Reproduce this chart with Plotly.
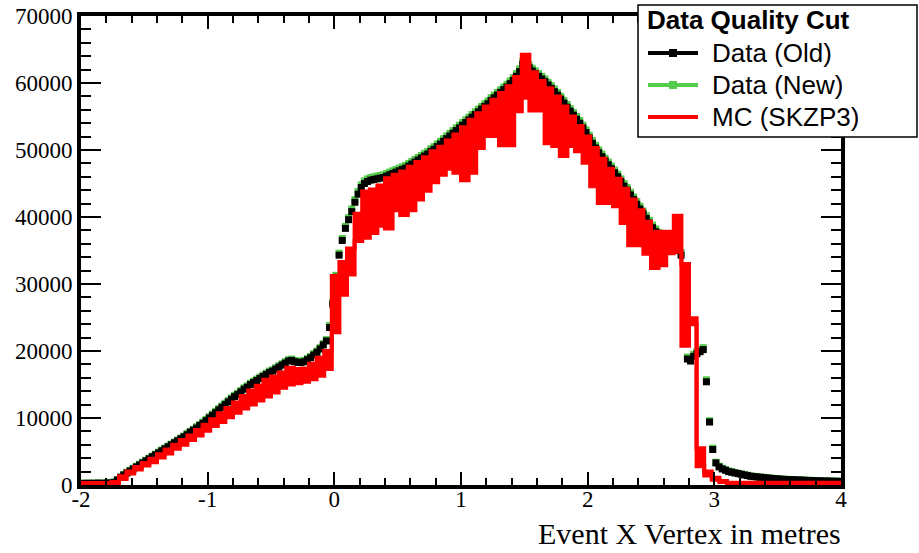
import numpy as np
import plotly.graph_objects as go

# ---------------- data ----------------
# Data histograms: 240 bins of 0.025 m from -2 to 4 (bin centres)
data_lo, data_hi, data_nbins = -2.0, 4.0, 240
data_old = [
    250, 230, 260, 240, 250, 270, 240, 260,
    280, 300, 400, 750, 1150, 1500, 1800, 2100,
    2400, 2700, 3000, 3300, 3600, 3900, 4200, 4500,
    4800, 5100, 5400, 5700, 6000, 6300, 6600, 6900,
    7200, 7500, 7900, 8200, 8500, 8900, 9200, 9600,
    10000, 10400, 10800, 11200, 11600, 12000, 12400, 12800,
    13200, 13500, 13900, 14300, 14600, 15000, 15300, 15600,
    15900, 16200, 16500, 16800, 17000, 17300, 17600, 17900,
    18200, 18500, 18600, 18400, 18300, 18300, 18400, 18700,
    19000, 19400, 19800, 20300, 20900, 21500, 23500, 27000,
    31000, 34300, 36500, 38300, 39600, 40800, 42200, 43400,
    44400, 45000, 45300, 45500, 45600, 45700, 45800, 45900,
    46100, 46300, 46500, 46700, 46900, 47100, 47300, 47600,
    47900, 48200, 48500, 48800, 49100, 49400, 49800, 50100,
    50500, 50900, 51300, 51700, 52100, 52500, 52900, 53300,
    53700, 54100, 54500, 54900, 55300, 55700, 56100, 56500,
    56900, 57400, 57800, 58200, 58600, 59000, 59400, 59900,
    60400, 61000, 61700, 62800, 63300, 62300, 61800, 61400,
    61000, 60600, 60200, 59700, 59200, 58700, 58200, 57600,
    57000, 56400, 55800, 55200, 54600, 54000, 53300, 52600,
    51800, 51000, 50300, 49600, 49000, 48400, 47800, 47200,
    46600, 46000, 45300, 44600, 44000, 43300, 42600, 41900,
    41200, 40500, 39800, 39100, 38400, 37800, 37300, 37000,
    36700, 36400, 36000, 35500, 35000, 34300, 21300, 18800,
    18500, 19200, 19600, 19900, 20200, 15400, 9400, 5300,
    3300, 2700, 2400, 2200, 2000, 1900, 1800, 1700,
    1600, 1500, 1400, 1300, 1250, 1200, 1150, 1100,
    1050, 1000, 950, 920, 880, 850, 820, 800,
    780, 760, 740, 720, 700, 680, 660, 640,
    620, 600, 590, 580, 570, 560, 550, 540,
]
data_new = [
    260, 250, 270, 250, 270, 280, 260, 270,
    300, 320, 450, 800, 1200, 1550, 1900, 2200,
    2500, 2800, 3100, 3400, 3700, 4000, 4300, 4600,
    4900, 5200, 5500, 5800, 6100, 6400, 6700, 7000,
    7300, 7700, 8000, 8300, 8700, 9000, 9400, 9800,
    10200, 10600, 11000, 11400, 11800, 12200, 12600, 13000,
    13400, 13700, 14100, 14500, 14800, 15200, 15500, 15800,
    16100, 16400, 16700, 17000, 17200, 17500, 17800, 18100,
    18400, 18700, 18800, 18600, 18500, 18500, 18600, 18900,
    19200, 19600, 20000, 20500, 21100, 21700, 23800, 27300,
    31300, 34600, 36800, 38600, 39900, 41200, 42600, 43800,
    44800, 45400, 45700, 45900, 46000, 46100, 46200, 46300,
    46500, 46700, 46900, 47100, 47300, 47500, 47700, 48000,
    48300, 48600, 48900, 49200, 49500, 49800, 50200, 50500,
    50900, 51300, 51700, 52100, 52500, 52900, 53300, 53700,
    54100, 54500, 54900, 55300, 55700, 56100, 56500, 56900,
    57300, 57800, 58200, 58600, 59000, 59400, 59800, 60300,
    60800, 61400, 62100, 63200, 63700, 62700, 62200, 61800,
    61400, 61000, 60600, 60100, 59600, 59100, 58600, 58000,
    57400, 56800, 56200, 55600, 55000, 54400, 53700, 53000,
    52200, 51400, 50700, 50000, 49400, 48800, 48200, 47600,
    47000, 46400, 45700, 45000, 44400, 43700, 43000, 42300,
    41600, 40900, 40200, 39500, 38800, 38200, 37700, 37400,
    37100, 36800, 36400, 35900, 35400, 34700, 21600, 19100,
    18800, 19500, 19900, 20200, 20500, 15700, 9600, 5500,
    3400, 2800, 2500, 2300, 2100, 2000, 1850, 1750,
    1650, 1550, 1450, 1350, 1300, 1250, 1200, 1150,
    1100, 1050, 1000, 960, 920, 890, 860, 830,
    810, 790, 770, 750, 730, 710, 690, 670,
    650, 630, 615, 600, 590, 580, 570, 560,
]

# MC (SKZP3): 100 bins of 0.06 m; the bin-to-bin spread is drawn as a band
mc_lo, mc_hi, mc_nbins = -2.0, 4.0, 100
mc_upper = [
    300, 300, 300, 300, 450, 1300, 2000, 2700, 3300, 3900,
    4600, 5300, 6000, 6700, 7400, 8200, 9000, 9800, 10700, 11500,
    12300, 13300, 14100, 14800, 15700, 16200, 16800, 17500, 17300, 17400,
    18100, 19000, 20000, 31200, 33300, 35300, 40500, 43800, 44100, 44700,
    45800, 46300, 46800, 47500, 48200, 48900, 49800, 50500, 51400, 52300,
    53400, 54500, 55500, 56500, 57500, 58500, 59500, 60900, 64200, 61600,
    60300, 59200, 58000, 56500, 55000, 53600, 52000, 50300, 48700, 47200,
    45700, 44200, 42600, 41000, 39300, 37800, 37800, 37800, 40200, 33000,
    24900, 5500, 2000, 1100, 600, 350, 350, 350, 350, 350,
    350, 350, 350, 350, 350, 350, 350, 350, 350, 350,
]
mc_lower = [
    300, 300, 300, 300, 300, 900, 1700, 2300, 2900, 3400,
    4100, 4700, 5400, 6000, 6700, 7400, 8100, 8800, 9400, 10100,
    10800, 11400, 12000, 12600, 13200, 13800, 14500, 15000, 15200, 15400,
    15800, 16300, 17300, 22800, 28400, 31400, 36400, 36900, 37600, 38700,
    38300, 41000, 40300, 41000, 42600, 43900, 45200, 46300, 47200, 46600,
    45500, 46600, 50300, 52100, 52100, 50700, 50700, 55800, 57800, 55900,
    55900, 51000, 50600, 49100, 50600, 49800, 48100, 44600, 42100, 42100,
    41600, 39100, 35800, 35800, 34500, 32400, 32800, 34600, 34800, 20800,
    24000, 2800, 1400, 800, 450, 300, 300, 300, 300, 300,
    300, 300, 300, 300, 300, 300, 300, 300, 300, 300,
]

x_tick_vals = [-2, -1, 0, 1, 2, 3, 4]
x_tick_text = ["-2", "-1", "0", "1", "2", "3", "4"]
y_tick_vals = [0, 10000, 20000, 30000, 40000, 50000, 60000, 70000]
y_tick_text = ["0", "10000", "20000", "30000", "40000", "50000", "60000", "70000"]

legend_title = "Data Quality Cut"
legend_labels = ["Data (Old)", "Data (New)", "MC (SKZP3)"]

# ---------------- style ----------------
BLACK = "#000000"
GREEN = "#55cc4c"
RED = "#ff0000"
SERIF = "Liberation Serif, Times New Roman, serif"
SANS = "Liberation Sans, Arial, Helvetica, sans-serif"

W, H = 919, 553
PL, PR, PT, PB = 81, 841, 16, 485

# ---------------- build ----------------
dw = (data_hi - data_lo) / data_nbins
x_data = data_lo + dw * (np.arange(data_nbins) + 0.5)

mw = (mc_hi - mc_lo) / mc_nbins
x_mc_edges = mc_lo + mw * np.arange(mc_nbins + 1)
mc_up_step = list(mc_upper) + [mc_upper[-1]]
mc_lo_step = list(mc_lower) + [mc_lower[-1]]

fig = go.Figure()

fig.add_trace(go.Scatter(
    x=x_data, y=data_new, mode="markers", name=legend_labels[1],
    marker=dict(symbol="square", size=7, color=GREEN, line=dict(width=0)),
    showlegend=False, hoverinfo="x+y"))
fig.add_trace(go.Scatter(
    x=x_data, y=data_old, mode="markers", name=legend_labels[0],
    marker=dict(symbol="square", size=7, color=BLACK, line=dict(width=0)),
    showlegend=False, hoverinfo="x+y"))
fig.add_trace(go.Scatter(
    x=x_mc_edges, y=mc_lo_step, mode="lines", name=legend_labels[2],
    line=dict(color=RED, width=4, shape="hv"), showlegend=False))
fig.add_trace(go.Scatter(
    x=x_mc_edges, y=mc_up_step, mode="lines", name=legend_labels[2],
    line=dict(color=RED, width=4, shape="hv"), fill="tonexty",
    fillcolor=RED, showlegend=False))

axis_common = dict(
    showline=True, linecolor=BLACK, linewidth=4, mirror="allticks",
    ticks="inside", tickcolor=BLACK, tickwidth=2,
    showgrid=False, zeroline=False, automargin=False,
    tickfont=dict(family=SERIF, size=23, color=BLACK),
)
fig.update_xaxes(
    range=[-2, 4], tickmode="array", tickvals=x_tick_vals, ticktext=x_tick_text,
    ticklen=13, ticklabelstandoff=-10,
    minor=dict(ticks="inside", ticklen=7, tickwidth=2, tickcolor=BLACK,
               tick0=-2, dtick=0.2, showgrid=False),
    **axis_common)
fig.update_yaxes(
    range=[0, 70000], tickmode="array", tickvals=y_tick_vals, ticktext=y_tick_text,
    ticklen=20,
    minor=dict(ticks="inside", ticklen=10, tickwidth=2, tickcolor=BLACK,
               tick0=0, dtick=2000, showgrid=False),
    **axis_common)


def fx(px):
    return (px - PL) / (PR - PL)


def fy(py):
    return (PB - py) / (PB - PT)


shapes = []
annotations = []
# legend box
shapes.append(dict(type="rect", xref="paper", yref="paper",
                   x0=fx(638), x1=fx(917), y0=fy(137), y1=fy(5),
                   fillcolor="white", line=dict(color=BLACK, width=1.5), layer="above"))
annotations.append(dict(xref="paper", yref="paper", x=fx(645), y=fy(20),
                        xanchor="left", yanchor="middle", showarrow=False,
                        text="<b>" + legend_title + "</b>",
                        font=dict(family=SANS, size=26, color=BLACK)))
row_y = [53, 85, 117]
sym_colors = [BLACK, GREEN, RED]
has_marker = [True, True, False]
for lab, yy, col, mk in zip(legend_labels, row_y, sym_colors, has_marker):
    shapes.append(dict(type="line", xref="paper", yref="paper",
                       x0=fx(648), x1=fx(698), y0=fy(yy), y1=fy(yy),
                       line=dict(color=col, width=4), layer="above"))
    if mk:
        shapes.append(dict(type="rect", xref="paper", yref="paper",
                           x0=fx(669), x1=fx(677), y0=fy(yy + 4), y1=fy(yy - 4),
                           fillcolor=col, line=dict(width=0), layer="above"))
    annotations.append(dict(xref="paper", yref="paper", x=fx(710), y=fy(yy),
                            xanchor="left", yanchor="middle", showarrow=False,
                            text=lab, font=dict(family=SANS, size=26, color=BLACK)))

# x-axis title (ROOT style: right aligned, bottom of canvas)
annotations.append(dict(xref="paper", yref="paper", x=fx(843), y=fy(552),
                        xanchor="right", yanchor="bottom", showarrow=False,
                        text="Event X Vertex in metres",
                        font=dict(family=SERIF, size=30, color=BLACK)))

fig.update_layout(
    width=W, height=H,
    margin=dict(l=PL, r=W - PR, t=PT, b=H - PB, pad=0, autoexpand=False),
    paper_bgcolor="white", plot_bgcolor="white",
    showlegend=False,
    shapes=shapes, annotations=annotations,
)

fig.write_html("out.html")
